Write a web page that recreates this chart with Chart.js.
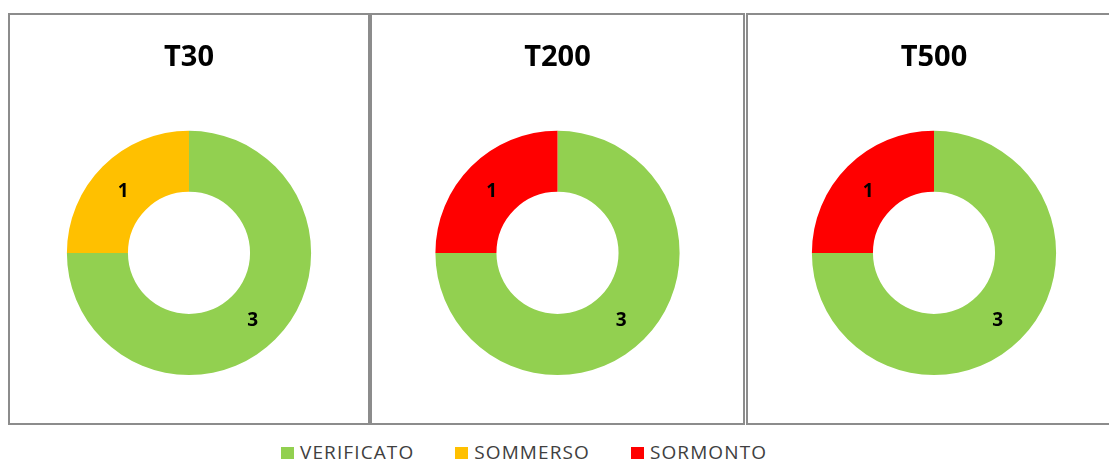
<!DOCTYPE html>
<html>
<head>
<meta charset="utf-8">
<script src="https://cdn.jsdelivr.net/npm/chart.js@4/dist/chart.umd.min.js"></script>
<style>
  body { margin: 0; width: 1109px; height: 459px; overflow: hidden; background: #fff; font-family: "Open Sans", sans-serif; }
  .panel { position: absolute; top: 13px; height: 412px; box-sizing: border-box; border: 2px solid #8c8c8c; background: #fff; }
  .panel canvas { display: block; }
  #legend { position: absolute; left: 281px; top: 443px; display: flex; height: 19px; line-height: 19px; }
  .item { display: flex; align-items: center; margin-right: 41px; color: #404040; font-size: 19px; letter-spacing: 1.1px; }
  .box { width: 13px; height: 13px; margin-right: 6px; margin-top: 2px; }
</style>
</head>
<body>
<div class="panel" style="left:8px;width:362px"><canvas id="c0"></canvas></div>
<div class="panel" style="left:370px;width:375px"><canvas id="c1"></canvas></div>
<div class="panel" style="left:746px;width:376px"><canvas id="c2"></canvas></div>
<div id="legend"></div>

<script>
// outcome counts per return period
var categories = ['VERIFICATO', 'SOMMERSO', 'SORMONTO'];
var colors = ['#92D050', '#FFC000', '#FF0000'];
var periods = ['T30', 'T200', 'T500'];
var t30 = [3, 1, 0];
var t200 = [3, 0, 1];
var t500 = [3, 0, 1];
var seriesList = [t30, t200, t500];

// writes the slice value in the middle of each arc
var sliceLabels = {
  id: 'sliceLabels',
  afterDatasetsDraw: function (chart) {
    var ctx = chart.ctx;
    var meta = chart.getDatasetMeta(0);
    var values = chart.data.datasets[0].data;
    ctx.save();
    ctx.font = 'bold 19px "Open Sans"';
    ctx.fillStyle = '#000';
    ctx.textAlign = 'center';
    ctx.textBaseline = 'middle';
    meta.data.forEach(function (arc, i) {
      if (!values[i]) return;
      var p = arc.getCenterPoint();
      ctx.fillText(values[i], p.x - 1, p.y + 3);
    });
    ctx.restore();
  }
};

periods.forEach(function (name, k) {
  var canvas = document.getElementById('c' + k);
  var panel = canvas.parentNode;
  canvas.width = panel.clientWidth;
  canvas.height = panel.clientHeight;
  new Chart(canvas, {
    type: 'doughnut',
    data: {
      labels: categories,
      datasets: [{
        data: seriesList[k],
        backgroundColor: colors,
        borderWidth: 0,
        hoverOffset: 0
      }]
    },
    options: {
      responsive: false,
      animation: false,
      events: [],
      cutout: '50%',
      layout: { padding: { bottom: 48 } },
      plugins: {
        legend: { display: false },
        tooltip: { enabled: false },
        title: {
          display: true,
          text: name,
          color: '#000',
          font: { family: 'Open Sans', size: 29, weight: 'bold', lineHeight: 1.2 },
          padding: { top: 25, bottom: 56 }
        }
      }
    },
    plugins: [sliceLabels]
  });
});

// shared legend under the three panels
var legend = document.getElementById('legend');
categories.forEach(function (cat, i) {
  var item = document.createElement('div');
  item.className = 'item';
  var box = document.createElement('span');
  box.className = 'box';
  box.style.background = colors[i];
  var txt = document.createElement('span');
  txt.textContent = cat;
  item.appendChild(box);
  item.appendChild(txt);
  legend.appendChild(item);
});
</script>
</body>
</html>
